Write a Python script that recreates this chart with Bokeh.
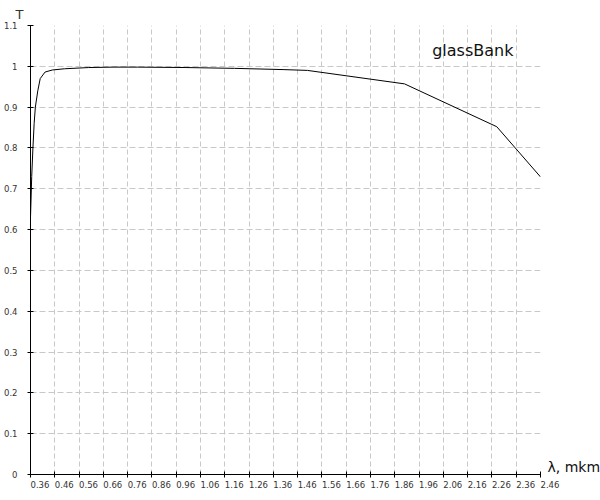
from bokeh.plotting import figure
from bokeh.models import Range1d, FixedTicker, LinearAxis, Label, Title
from bokeh.embed import file_html
from bokeh.resources import INLINE

# ---- data ----
wavelength = [0.36, 0.365, 0.37, 0.375, 0.38, 0.39, 0.40, 0.42, 0.45, 0.50,
              0.60, 0.70, 0.80, 1.00, 1.20, 1.40, 1.50, 1.90, 2.28, 2.46]
transmission = [0.63, 0.73, 0.80, 0.86, 0.90, 0.94, 0.97, 0.986, 0.991, 0.994,
                0.997, 0.998, 0.998, 0.997, 0.995, 0.992, 0.990, 0.957, 0.852, 0.729]

x_ticks = [0.36, 0.46, 0.56, 0.66, 0.76, 0.86, 0.96, 1.06, 1.16, 1.26, 1.36,
           1.46, 1.56, 1.66, 1.76, 1.86, 1.96, 2.06, 2.16, 2.26, 2.36, 2.46]
x_tick_labels = ["0.36", "0.46", "0.56", "0.66", "0.76", "0.86", "0.96", "1.06",
                 "1.16", "1.26", "1.36", "1.46", "1.56", "1.66", "1.76", "1.86",
                 "1.96", "2.06", "2.16", "2.26", "2.36", "2.46"]
y_ticks = [0.0, 0.1, 0.2, 0.3, 0.4, 0.5, 0.6, 0.7, 0.8, 0.9, 1.0, 1.1]
y_tick_labels = ["0", "0.1", "0.2", "0.3", "0.4", "0.5", "0.6", "0.7", "0.8",
                 "0.9", "1", "1.1"]

series_name = "glassBank"
x_title = "λ, mkm"
y_title = "T"

x_min, x_max = 0.36, 2.46
y_min, y_max = 0.0, 1.1

FONT = "DejaVu Sans"
TICK_FONT_SIZE = "8.5px"
LABEL_COLOR = "#333333"
GRID_COLOR = "#c8c8c8"


def left_aligned(label):
    # pad with spaces of equal width so the centred label starts at its tick
    pad = "".join("\u2008" if c == "." else "\u2007" for c in label)
    return pad + label


p = figure(frame_width=510, frame_height=449,
           x_range=Range1d(x_min, x_max), y_range=Range1d(y_min, y_max),
           output_backend="svg", toolbar_location=None,
           min_border_left=30, min_border_right=58,
           min_border_top=25, min_border_bottom=20)
p.outline_line_color = None
p.background_fill_color = "white"
p.border_fill_color = "white"

# grid
p.xgrid.ticker = FixedTicker(ticks=x_ticks)
p.ygrid.ticker = FixedTicker(ticks=y_ticks)
p.xgrid.grid_line_dash = "5 3"
p.ygrid.grid_line_dash = "6 3"
for g in (p.xgrid, p.ygrid):
    g.grid_line_color = GRID_COLOR
    g.grid_line_width = 1

# x axis
xa = p.xaxis[0]
xa.ticker = FixedTicker(ticks=x_ticks)
xa.major_label_overrides = {t: left_aligned(s) for t, s in zip(x_ticks, x_tick_labels)}
xa.axis_line_color = "black"
xa.major_tick_line_color = "black"
xa.major_tick_in = 3
xa.major_tick_out = 3
xa.minor_tick_line_color = None
xa.major_label_standoff = 2
xa.major_label_text_font = FONT
xa.major_label_text_font_size = TICK_FONT_SIZE
xa.major_label_text_color = LABEL_COLOR

# y axis
ya = p.yaxis[0]
ya.ticker = FixedTicker(ticks=y_ticks)
ya.major_label_overrides = dict(zip(y_ticks, y_tick_labels))
ya.axis_line_color = "black"
ya.major_tick_line_color = "black"
ya.major_tick_in = 3
ya.major_tick_out = 3
ya.minor_tick_line_color = None
ya.major_label_standoff = 10
ya.major_label_text_font = FONT
ya.major_label_text_font_size = TICK_FONT_SIZE
ya.major_label_text_color = LABEL_COLOR

# x-axis title at the right end of the axis (a label-only axis on the right)
x_title_pos = 0.019
xt = LinearAxis(ticker=FixedTicker(ticks=[x_title_pos]))
xt.major_label_overrides = {x_title_pos: x_title}
xt.axis_line_color = None
xt.major_tick_line_color = None
xt.minor_tick_line_color = None
xt.major_tick_in = 0
xt.major_tick_out = 0
xt.major_label_standoff = 7
xt.major_label_text_font = FONT
xt.major_label_text_font_size = "14px"
xt.major_label_text_color = "#111111"
p.add_layout(xt, "right")

# y-axis title above the axis
p.add_layout(Title(text=y_title, align="left", offset=-15, standoff=8,
                   text_font=FONT, text_font_size="13px",
                   text_font_style="normal", text_color="#333333"), "above")

# curve
p.line(wavelength, transmission, line_color="black", line_width=1)

# series name
p.add_layout(Label(x=2.014, y=1.038, text=series_name, text_font=FONT,
                   text_font_size="16px", text_color="#111111",
                   text_align="left", text_baseline="alphabetic"))

open("out.html", "w").write(file_html(p, INLINE))
